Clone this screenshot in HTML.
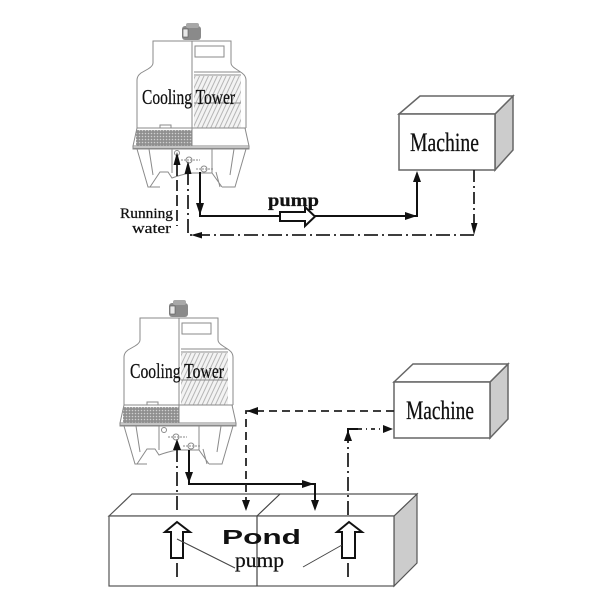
<!DOCTYPE html>
<html>
<head>
<meta charset="utf-8">
<style>
html,body{margin:0;padding:0;background:#fff;width:600px;height:600px;overflow:hidden}
svg{display:block;filter:blur(0.35px)}
text{fill:#111}
.s{font-family:"Liberation Serif",serif;stroke:#111;stroke-width:0.25}
.t{fill:none;stroke:#8a8a8a;stroke-width:1}
.a{fill:none;stroke:#111;stroke-width:2}
.d{fill:none;stroke:#222;stroke-width:1.8}
.h{fill:#111;stroke:none}
.m{stroke:#666;stroke-width:1.5}
</style>
</head>
<body>
<svg width="600" height="600" viewBox="0 0 600 600" xmlns="http://www.w3.org/2000/svg">
<defs>
<pattern id="dots" width="3" height="3" patternUnits="userSpaceOnUse">
<rect width="3" height="3" fill="#8f8f8f"/>
<circle cx="1.5" cy="1.5" r="0.8" fill="#d0d0d0"/>
</pattern>
<pattern id="hatch" width="4" height="4" patternUnits="userSpaceOnUse" patternTransform="rotate(25)">
<rect width="4" height="4" fill="#f3f3f3"/>
<line x1="1" y1="0" x2="1" y2="4" stroke="#b5b5b5" stroke-width="1"/>
</pattern>
<g id="tower">
<rect x="136" y="130" width="56" height="16" fill="url(#dots)"/>
<rect x="194" y="76" width="47" height="52" fill="url(#hatch)"/>
<path class="t" d="M153 63V41H231V63Q231 66 236 69L242 73Q246 76 246 80V128M153 63Q153 66 148 69L141 73Q137 76 137 80V128M137 128H246"/>
<path class="t" d="M192 41V146" stroke-width="1.5"/>
<path class="t" d="M194 75H241M194 72H241M194 103H241M194 128H241"/>
<path class="t" d="M195 46H224V57H195ZM160 128V125H171V128"/>
<path class="t" d="M137 128L133 146H249L245 128"/>
<path class="t" d="M133 146V149H249V146M133 148H249"/>
<path class="t" d="M137 149L148 187H160M149 149L153 175M246 149L235 187H222M234 149L230 175"/>
<path class="t" d="M172 149V173M212 149V173M150 187L160 172H168L172 178Q180 175 190 173H212L222 187M220 187L216 172"/>
<circle class="t" cx="177" cy="153" r="2.5"/>
<circle class="t" cx="189" cy="160" r="3"/>
<circle class="t" cx="204" cy="169" r="3"/>
<path class="t" d="M181 160H200M196 169H214" stroke-dasharray="2 1"/>
<rect x="182" y="26" width="19" height="14" rx="3" fill="#8a8a8a"/>
<rect x="186" y="23" width="13" height="5" rx="2" fill="#a8a8a8"/>
<rect x="183" y="29" width="5" height="8" fill="#e8e8e8" stroke="#555" stroke-width="0.6"/>
</g>
</defs>

<use href="#tower"/>
<use href="#tower" x="-13" y="277"/>

<text class="s" x="142" y="104" font-size="21" textLength="93" lengthAdjust="spacingAndGlyphs">Cooling Tower</text>
<text class="s" x="130" y="378" font-size="21" textLength="94" lengthAdjust="spacingAndGlyphs">Cooling Tower</text>

<!-- top machine -->
<path d="M495 114L513 96V150L495 170Z" fill="#cccccc" class="m"/>
<path d="M399 114L420 96H513L495 114Z" fill="#fff" class="m"/>
<rect x="399" y="114" width="96" height="56" fill="#fff" class="m"/>
<text class="s" x="410" y="151" font-size="26" textLength="69" lengthAdjust="spacingAndGlyphs">Machine</text>

<!-- top connectors -->
<path class="a" d="M200 172V216H417V175"/>
<path class="h" d="M196 203H204L200 215ZM405 212L417 216L405 220ZM413 182L417 171L421 182Z"/>
<path d="M280 212H305V207L315 216.500L305 226V221H280Z" fill="#fff" stroke="#111" stroke-width="2"/>
<text class="s" x="268" y="206" font-size="18" font-weight="bold" textLength="51" lengthAdjust="spacingAndGlyphs">pump</text>
<path class="d" d="M474 170V224" stroke-dasharray="12 4 2 4"/>
<path class="d" d="M474 235H188V165" stroke-dasharray="14 4 2 4"/>
<path class="h" d="M471 223H477.500L474 235ZM202 232V238.500L191 235ZM184.500 174H191.500L188 161ZM173.500 165H180.500L177 152Z"/>
<path class="d" d="M177 165V226" stroke-dasharray="11 4"/>
<text class="s" x="120" y="218" font-size="15" textLength="53" lengthAdjust="spacingAndGlyphs">Running</text>
<text class="s" x="132" y="233" font-size="15" textLength="39" lengthAdjust="spacingAndGlyphs">water</text>

<!-- pond -->
<path d="M394 516L417 494V563L394 586Z" fill="#cccccc" stroke="#555" stroke-width="1.2"/>
<path d="M109 516L132 494H417L394 516Z" fill="#fff" stroke="#555" stroke-width="1.2"/>
<rect x="109" y="516" width="285" height="70" fill="#fff" stroke="#555" stroke-width="1.2"/>
<path d="M257 516V586M257 516L280 494" fill="none" stroke="#444" stroke-width="1.2"/>

<!-- bottom machine -->
<path d="M490 382L508 364V419L490 438Z" fill="#cccccc" class="m"/>
<path d="M394 382L413 364H508L490 382Z" fill="#fff" class="m"/>
<rect x="394" y="382" width="96" height="56" fill="#fff" class="m"/>
<text class="s" x="406" y="419" font-size="26" textLength="68" lengthAdjust="spacingAndGlyphs">Machine</text>

<!-- bottom connectors -->
<path class="a" d="M189 450V484H315V500"/>
<path class="h" d="M185 472H193L189 483ZM302 480L314 484L302 488ZM311 500H319L315 511Z"/>
<path class="d" d="M394 411H246V501" stroke-dasharray="8 5"/>
<path class="h" d="M258 407V415L247 411ZM242 500H250L246 511Z"/>
<path class="d" d="M177 448V514" stroke-dasharray="14 4 2 4"/>
<path class="d" d="M177 563V577"/>
<path class="h" d="M173 450H181L177 439Z"/>
<path class="d" d="M348 515V441" stroke-dasharray="14 4 2 4"/>
<path class="a" d="M348 440V429H358"/>
<path class="d" d="M358 429H383" stroke-dasharray="4 4 1 4"/>
<path class="d" d="M348 563V577"/>
<path class="h" d="M344 441H352L348 430ZM383 425L393 429L383 433Z"/>

<!-- pump arrows -->
<path d="M171 558V532H165L177 522L190 532H183V558Z" fill="#fff" stroke="#111" stroke-width="2"/>
<path d="M342 558V532H337L349 522L362 532H355V558Z" fill="#fff" stroke="#111" stroke-width="2"/>
<path d="M177 539L235 568M342 545L303 567" fill="none" stroke="#444" stroke-width="1"/>
<text x="222" y="544" font-family="'Liberation Sans',sans-serif" font-size="20" font-weight="bold" textLength="79" lengthAdjust="spacingAndGlyphs">Pond</text>
<text class="s" x="235" y="567" font-size="20" textLength="49" lengthAdjust="spacingAndGlyphs">pump</text>
</svg>
</body>
</html>
